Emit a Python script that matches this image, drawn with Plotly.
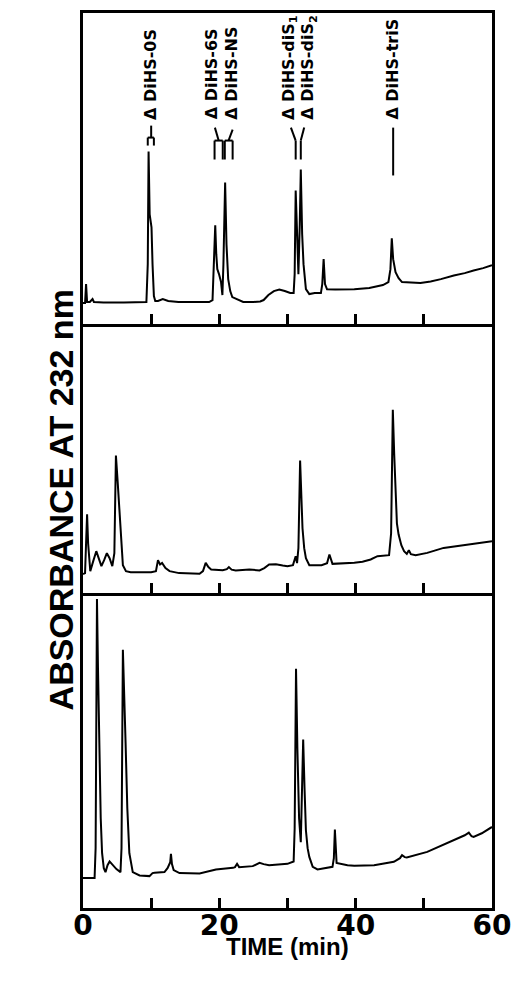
import plotly.graph_objects as go

# ---------------- data (time in min, absorbance in arbitrary units) ----------------
time_a = [0, 0.3, 0.45, 0.6, 1.0, 1.4, 1.6, 3, 6, 8, 9.3, 9.5, 9.62, 9.78, 9.92, 10.05, 10.2, 10.4, 10.6,
          11.0, 11.7, 12.5, 14, 17, 18.5, 19.0, 19.15, 19.4, 19.55, 19.7, 19.95, 20.25, 20.45, 20.6, 20.85,
          21.05, 21.3, 21.6, 21.9, 22.5, 23.5, 25, 26, 26.5, 27.2, 28, 28.8, 29.6, 30.4, 30.9, 31.05, 31.2,
          31.4, 31.6, 31.8, 31.95, 32.15, 32.35, 32.7, 33.2, 34, 34.9, 35.1, 35.3, 35.5, 35.8, 37, 39.8, 42,
          44, 44.8, 45.1, 45.3, 45.5, 45.85, 46.3, 46.8, 48, 49.5, 51, 52.5, 54.4, 56, 57.3, 58.7, 60]
abs_a = [21, 21, 40, 22, 22, 25, 22, 21.5, 21.5, 21.5, 22, 60, 173, 110, 100, 97, 60, 28, 23,
         23, 25, 23, 22, 22, 22, 24, 50, 99, 70, 55, 50, 42, 29, 60, 142,
         80, 45, 33, 27, 25, 22, 22, 22.5, 24, 29, 33, 34.5, 33, 31, 31, 50, 134,
         90, 50, 100, 155, 90, 60, 35, 30, 31, 31, 40, 65, 40, 34.7, 34.5, 34.7, 36,
         39, 42, 55, 86, 65, 52, 46, 42, 41.5, 41, 42.7, 45, 48.7, 51, 53.7, 56, 59]

time_b = [0, 0.3, 0.45, 0.6, 0.75, 1.07, 1.5, 1.95, 2.3, 2.7, 3.1, 3.5, 3.9, 4.3, 4.6, 4.83, 5.1, 5.4,
          5.65, 5.85, 6.3, 7, 8, 9, 10, 10.7, 11.0, 11.3, 11.6, 12.1, 12.7, 14.1, 17.1, 17.6, 18.0, 18.4,
          18.8, 20.5, 21.1, 21.4, 21.8, 22.4, 24.4, 25.9, 26.6, 27.3, 28.3, 29.3, 30, 30.8, 31.2, 31.4,
          31.6, 31.85, 32.0, 32.2, 32.45, 32.7, 33.2, 34, 35, 35.8, 36.15, 36.6, 38, 39.8, 41, 42.2, 43.2,
          44.9, 45.2, 45.45, 45.65, 45.85, 46.05, 46.3, 46.7, 47.1, 47.5, 47.8, 48.1, 48.8, 50.5, 52.9,
          55.9, 58.3, 60]
abs_b = [19, 20, 50, 79, 50, 22, 32, 42, 35, 27, 33, 40, 35, 27, 40, 138, 110, 75,
         40, 28, 22, 21, 21, 21, 21, 22, 33, 28.7, 30.3, 25, 22, 20, 19.3, 22, 30.3, 26,
         23.7, 23, 24, 26, 23.5, 22.7, 23.7, 22.7, 25, 28.7, 29, 27.7, 27, 28, 37, 30,
         45, 133, 100, 65, 45, 35, 28, 27.7, 28, 30, 38.7, 29.3, 29.5, 30.3, 31.5, 33.7, 37,
         38, 60, 184, 140, 92, 70, 58.7, 48, 42, 39.3, 43, 39, 38, 40.3, 45.3,
         48, 50.3, 52]

time_c = [0, 1.0, 1.7, 1.85, 1.95, 2.05, 2.2, 2.4, 2.6, 2.8, 3.05, 3.3, 3.6, 3.9, 4.4, 4.9, 5.5, 5.65,
          5.85, 6.05, 6.25, 6.5, 6.8, 7.3, 8.3, 9.75, 10.2, 10.5, 11.95, 12.4, 12.6, 12.8, 12.9, 13.05,
          13.3, 14.15, 17.1, 19.5, 22.0, 22.3, 22.6, 22.9, 24.9, 25.5, 25.9, 26.5, 27.3, 30, 30.9, 31.05,
          31.25, 31.45, 31.7, 31.95, 32.1, 32.3, 32.5, 32.7, 32.95, 33.2, 33.7, 34.4, 36.6, 36.8, 36.95,
          37.1, 37.2, 38.8, 39.8, 42.7, 45.6, 46.5, 46.8, 47.2, 47.5, 50.5, 53.4, 56.0, 56.6, 57.0, 57.3,
          58.5, 60]
abs_c = [30, 30, 30, 60, 200, 310, 240, 149, 90, 55, 40, 36, 43, 46.7, 43, 39, 36, 60,
         259, 220, 165, 100, 55, 36, 32.7, 32, 35, 35.3, 36, 40, 42.7, 46, 54.3, 44,
         38, 35, 34.7, 38.7, 40.3, 41, 44.3, 41, 42, 44, 45.3, 44, 43, 44.3, 46.7, 80,
         240, 160, 90, 66, 110, 169, 120, 78, 60, 51.3, 41.3, 38.7, 41.3, 50, 78.7,
         55, 45.3, 43, 42.3, 43, 46.3, 50, 53, 51, 50.7, 56.3, 65.3, 73, 75.7, 72, 71.3,
         75, 81.3]

peak_labels = ["Δ DiHS-0S", "Δ DiHS-6S", "Δ DiHS-NS", "Δ DiHS-diS<sub>1</sub>",
               "Δ DiHS-diS<sub>2</sub>", "Δ DiHS-triS"]
label_times = [9.8, 18.8, 21.8, 30.2, 33.1, 45.4]

x_tickvals = [0, 10, 20, 30, 40, 50, 60]
x_ticktext = ["0", "", "20", "", "40", "", "60"]

# ---------------- figure ----------------
fig = go.Figure()
line = dict(color="black", width=2)
fig.add_trace(go.Scatter(x=time_a, y=abs_a, mode="lines", line=line, xaxis="x3", yaxis="y3", showlegend=False))
fig.add_trace(go.Scatter(x=time_b, y=abs_b, mode="lines", line=line, xaxis="x2", yaxis="y2", showlegend=False))
fig.add_trace(go.Scatter(x=time_c, y=abs_c, mode="lines", line=line, xaxis="x", yaxis="y", showlegend=False))

H = 898.0
d_bot = (908 - 592) / H
d_mid = (908 - 322) / H

LW = 3
common_x = dict(range=[0, 60], showline=True, linecolor="black", linewidth=LW,
                ticks="inside", ticklen=10, tickwidth=2.5, tickcolor="black",
                tickvals=x_tickvals, showgrid=False, zeroline=False)
common_y = dict(showline=True, linecolor="black", linewidth=LW, mirror=True, ticks="",
                showticklabels=False, showgrid=False, zeroline=False)

fig.update_layout(
    width=521, height=995, autosize=False,
    margin=dict(l=83, r=28, t=10, b=87),
    paper_bgcolor="white", plot_bgcolor="white",
    font=dict(family="Liberation Sans, Arial, sans-serif", color="black"),
    xaxis=dict(**common_x, anchor="y", ticktext=x_ticktext, mirror=False, ticklabelstandoff=-10,
               tickfont=dict(size=28, weight="bold", family="DejaVu Sans")),
    xaxis2=dict(**common_x, anchor="y2", showticklabels=False, matches="x", mirror=False),
    xaxis3=dict(**common_x, anchor="y3", showticklabels=False, matches="x", mirror=True),
    yaxis=dict(**common_y, domain=[0, d_bot], range=[0, 316]),
    yaxis2=dict(**common_y, domain=[d_bot, d_mid], range=[0, 270]),
    yaxis3=dict(**common_y, domain=[d_mid, 1], range=[0, 312]),
)

# axis titles
fig.add_annotation(text="TIME (min)", xref="paper", yref="paper", x=0.5, y=(908 - 947) / H,
                   xanchor="center", yanchor="middle", showarrow=False,
                   font=dict(size=24, weight="bold"))
fig.add_annotation(text="ABSORBANCE AT 232 nm", xref="paper", yref="paper", x=(61 - 83) / 410.0,
                   y=(908 - 499) / H, textangle=-90, xanchor="center", yanchor="middle",
                   showarrow=False, font=dict(size=34, weight="bold"))

# peak labels (rotated)
for lab, t in zip(peak_labels, label_times):
    fig.add_annotation(text=lab, x=t, y=203, xref="x3", yref="y3", textangle=-90,
                       xanchor="center", yanchor="bottom", showarrow=False,
                       font=dict(size=16, weight="bold", family="DejaVu Sans"))

# label connector marks (in panel A data coordinates)
mk = dict(color="black", width=2)
def seg(x0, y0, x1, y1):
    fig.add_shape(type="line", xref="x3", yref="y3", x0=x0, y0=y0, x1=x1, y1=y1, line=mk)

# 0S: stem + small arch
seg(10.0, 199, 10.0, 187)
seg(9.5, 187, 10.4, 187)
seg(9.5, 187, 9.5, 179)
seg(10.4, 187, 10.4, 179)
# 6S / NS: diagonals + two arches
seg(19.35, 197, 19.9, 184)
seg(21.95, 195, 21.35, 184)
seg(19.3, 184, 20.5, 184)
seg(19.3, 184, 19.3, 165)
seg(20.5, 184, 20.5, 165)
seg(20.8, 184, 21.95, 184)
seg(20.8, 184, 20.8, 165)
seg(21.95, 184, 21.95, 165)
# diS1 / diS2: Y shape
seg(30.5, 197, 31.2, 184)
seg(31.2, 184, 31.2, 165)
seg(32.45, 197, 31.95, 184)
seg(31.95, 184, 31.95, 165)
# triS: straight line
seg(45.5, 197, 45.5, 149)

fig.write_html("out.html")
